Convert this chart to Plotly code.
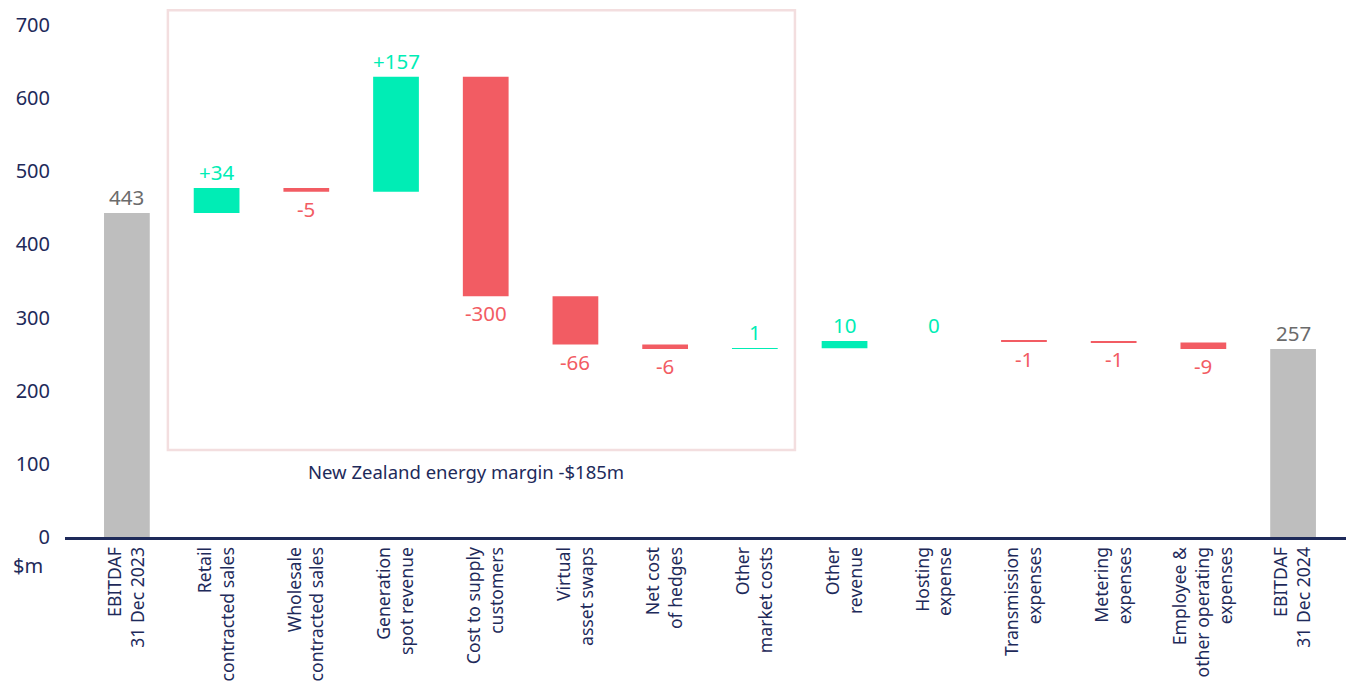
import plotly.graph_objects as go

# EBITDAF bridge, 31 Dec 2023 -> 31 Dec 2024 ($m)
categories = [
    "EBITDAF<br>31 Dec 2023",
    "Retail<br>contracted sales",
    "Wholesale<br>contracted sales",
    "Generation<br>spot revenue",
    "Cost to supply<br>customers",
    "Virtual<br>asset swaps",
    "Net cost<br>of hedges",
    "Other<br>market costs",
    "Other<br>revenue",
    "Hosting<br>expense",
    "Transmission<br>expenses",
    "Metering<br>expenses",
    "Employee &<br>other operating<br>expenses",
    "EBITDAF<br>31 Dec 2024",
]
values = [443, 34, -5, 157, -300, -66, -6, 1, 10, 0, -1, -1, -9, 257]
measures = ["absolute"] + ["relative"] * 12 + ["total"]
value_labels = ["443", "+34", "-5", "+157", "-300", "-66", "-6", "1", "10", "0",
                "-1", "-1", "-9", "257"]

NAVY = "#1E2A5A"
GREEN = "#00EDB5"
RED = "#F25C63"
GREY = "#BEBEBE"
GREY_TEXT = "#6B6B6B"
FONT = "Noto Sans"

# running level before/after each step
starts, ends = [], []
level = 0
for v, m in zip(values, measures):
    if m == "absolute":
        starts.append(0); level = v; ends.append(v)
    elif m == "total":
        starts.append(0); ends.append(level)
    else:
        starts.append(level); level += v; ends.append(level)

xs = list(range(len(categories)))

fig = go.Figure()
fig.add_trace(go.Waterfall(
    x=xs, y=values, measure=measures,
    increasing=dict(marker=dict(color=GREEN)),
    decreasing=dict(marker=dict(color=RED)),
    totals=dict(marker=dict(color=GREY)),
    connector=dict(visible=False),
    width=0.51,
    hoverinfo="skip",
    showlegend=False,
))

# value labels: above the bar for gains/totals, below for losses
for i, (v, m) in enumerate(zip(values, measures)):
    top = max(starts[i], ends[i])
    bot = min(starts[i], ends[i])
    if m != "relative":
        y, anchor, shift, col = top, "bottom", 0, GREY_TEXT
    elif v >= 0:
        y, anchor, shift, col = top, "bottom", 0, GREEN
    else:
        y, anchor, shift, col = bot, "top", -1, RED
    fig.add_annotation(x=i, y=y, xref="x", yref="y", text=value_labels[i],
                       showarrow=False, yanchor=anchor, yshift=shift,
                       font=dict(family=FONT, size=20.5, color=col))

# New Zealand energy margin group box
fig.add_shape(type="rect", xref="x", yref="y",
              x0=0.457, x1=7.447, y0=119, y1=720,
              line=dict(color="#F3DEDF", width=2.5), fillcolor="rgba(0,0,0,0)",
              layer="below")
fig.add_annotation(x=3.78, y=89, xref="x", yref="y",
                   text="New Zealand energy margin -$185m", showarrow=False,
                   font=dict(family=FONT, size=18.5, color=NAVY))
fig.add_annotation(x=-0.0155, y=-0.025, xref="paper", yref="paper",
                   text="$m", showarrow=False, xanchor="right", yanchor="top",
                   font=dict(family=FONT, size=20, color=NAVY))

fig.update_layout(
    width=1346, height=687,
    margin=dict(l=65, r=0, t=0, b=150, autoexpand=False),
    plot_bgcolor="white", paper_bgcolor="white",
    font=dict(family=FONT, color=NAVY),
    xaxis=dict(
        range=[-0.69, 13.59],
        tickmode="array", tickvals=xs, ticktext=categories,
        tickangle=-90, tickfont=dict(family=FONT, size=17.6, color=NAVY),
        showline=True, linecolor=NAVY, linewidth=3,
        showgrid=False, zeroline=False, ticks="", automargin=False,
        ticklabelstandoff=0,
    ),
    yaxis=dict(
        range=[0, 734],
        tickvals=[0, 100, 200, 300, 400, 500, 600, 700],
        tickfont=dict(family=FONT, size=20, color=NAVY),
        showgrid=False, zeroline=False, showline=False,
        ticks="", ticklabelstandoff=14, automargin=False,
    ),
)

fig.write_html("out.html")
